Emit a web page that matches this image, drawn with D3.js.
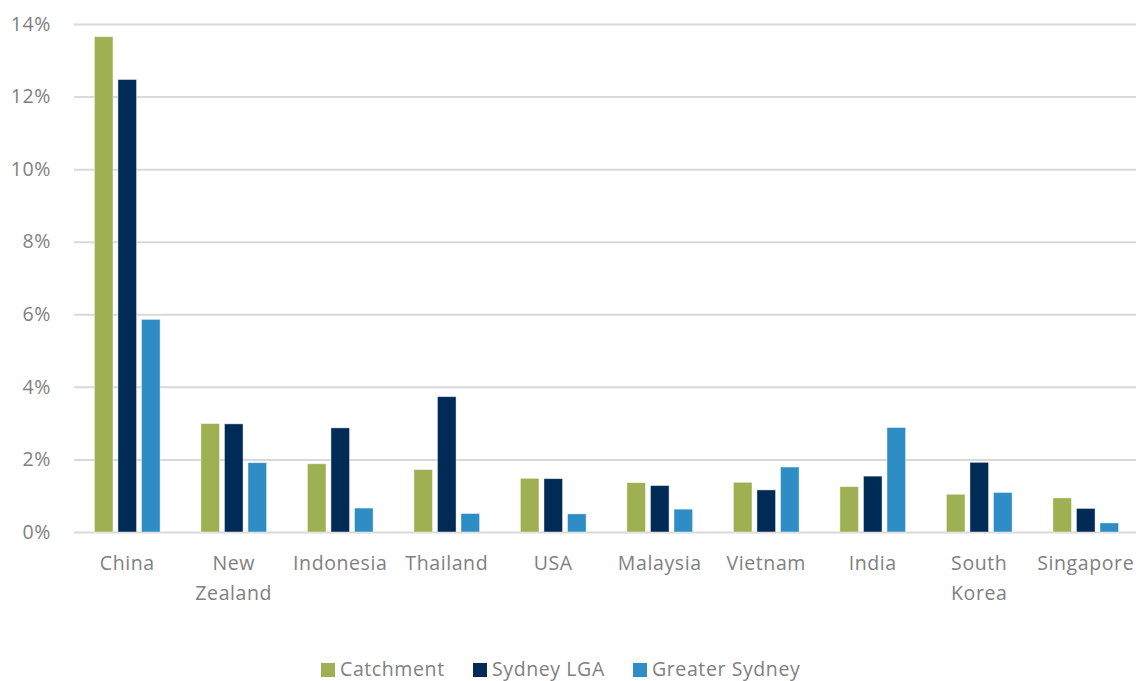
<!DOCTYPE html>
<html>
<head>
<meta charset="utf-8">
<script src="https://cdn.jsdelivr.net/npm/d3@7"></script>
<style>
  html, body { margin: 0; padding: 0; background: #fff; }
  svg { display: block; }
  text { font-family: "Open Sans", Lato, sans-serif; fill: #808080; letter-spacing: 0.6px; }
</style>
</head>
<body>
<svg id="chart" width="1136" height="681"></svg>
<script>
// Country of birth, share of residents
const categories = ["China", "New Zealand", "Indonesia", "Thailand", "USA", "Malaysia", "Vietnam", "India", "South Korea", "Singapore"];
const categoryLines = [["China"], ["New", "Zealand"], ["Indonesia"], ["Thailand"], ["USA"], ["Malaysia"], ["Vietnam"], ["India"], ["South", "Korea"], ["Singapore"]];
const seriesNames = ["Catchment", "Sydney LGA", "Greater Sydney"];
const catchment     = [13.65, 2.99, 1.88, 1.72, 1.48, 1.36, 1.37, 1.25, 1.04, 0.94];
const sydneyLGA     = [12.47, 2.98, 2.87, 3.73, 1.47, 1.28, 1.16, 1.54, 1.92, 0.65];
const greaterSydney = [5.86, 1.91, 0.66, 0.51, 0.50, 0.63, 1.79, 2.88, 1.09, 0.25];
const yTicks = [0, 2, 4, 6, 8, 10, 12, 14];
const colors = ["#9fb052", "#012b57", "#2e8dc5"];

const values = [catchment, sydneyLGA, greaterSydney];
const svg = d3.select("#chart");

const plot = { left: 74, right: 1139, top: 24, bottom: 532 };

const x0 = d3.scaleBand()
  .domain(categories)
  .range([plot.left, plot.right])
  .paddingInner(0.383)
  .paddingOuter(0.1915);

const x1 = d3.scaleBand()
  .domain(seriesNames)
  .range([0, x0.bandwidth()])
  .paddingInner(0.21)
  .paddingOuter(0);

const y = d3.scaleLinear().domain([0, 14]).range([plot.bottom, plot.top]);

// gridlines and percentage labels
const yAxis = d3.axisLeft(y)
  .tickValues(yTicks)
  .tickSize(-(plot.right - plot.left))
  .tickPadding(23)
  .tickFormat(d => d + "%");

const gAxis = svg.append("g")
  .attr("transform", `translate(${plot.left},0)`)
  .call(yAxis);
gAxis.select(".domain").remove();
gAxis.selectAll(".tick line").attr("stroke", "#d9d9d9").attr("stroke-width", 2);
gAxis.selectAll(".tick text")
  .attr("font-size", 19.5)
  .attr("fill", "#808080")
  .style("font-family", "'Open Sans', Lato, sans-serif");

// bars
const groups = svg.append("g").selectAll("g")
  .data(categories)
  .join("g")
  .attr("transform", d => `translate(${x0(d)},0)`);

groups.selectAll("rect")
  .data((d, i) => seriesNames.map((s, j) => ({ series: s, value: values[j][i], color: colors[j] })))
  .join("rect")
  .attr("x", d => x1(d.series))
  .attr("width", x1.bandwidth())
  .attr("y", d => y(d.value))
  .attr("height", d => y(0) - y(d.value))
  .attr("fill", d => d.color)
  .attr("stroke", "rgba(255,255,255,0.55)")
  .attr("stroke-width", 0.8);

// category labels
const labels = svg.append("g").selectAll("text")
  .data(categories)
  .join("text")
  .attr("x", d => x0(d) + x0.bandwidth() / 2)
  .attr("y", 570)
  .attr("text-anchor", "middle")
  .attr("font-size", 19.5);

labels.each(function (d, i) {
  const t = d3.select(this);
  categoryLines[i].forEach((line, k) => {
    t.append("tspan")
      .attr("x", x0(d) + x0.bandwidth() / 2)
      .attr("dy", k === 0 ? 0 : 30)
      .text(line);
  });
});

// legend
const legendItems = [
  { name: seriesNames[0], color: colors[0], x: 321 },
  { name: seriesNames[1], color: colors[1], x: 473 },
  { name: seriesNames[2], color: colors[2], x: 633 }
];
const legend = svg.append("g").selectAll("g")
  .data(legendItems)
  .join("g")
  .attr("transform", d => `translate(${d.x},0)`);
legend.append("rect")
  .attr("x", 0).attr("y", 663)
  .attr("width", 14).attr("height", 14)
  .attr("fill", d => d.color);
legend.append("text")
  .attr("x", 19).attr("y", 676)
  .attr("font-size", 19.5)
  .text(d => d.name);
</script>
</body>
</html>
